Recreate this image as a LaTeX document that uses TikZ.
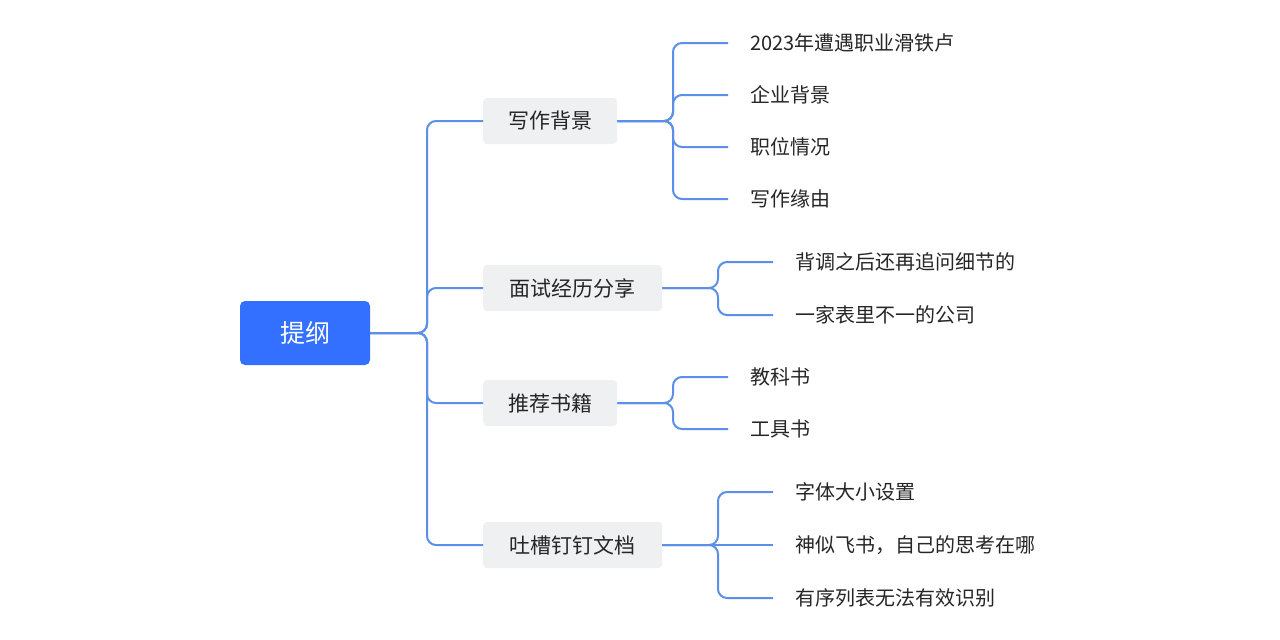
\documentclass[tikz,border=0pt]{standalone}
\usepackage{fontspec}
\setmainfont{Noto Sans CJK SC}
\begin{document}
\begin{tikzpicture}[x=1pt,y=-1pt,
  rootbox/.style={fill=rootblue,rounded corners=5pt,text=white,font=\fontsize{25}{30}\selectfont,minimum width=130pt,minimum height=64pt,inner sep=0pt},
  midbox/.style={fill=midgray,rounded corners=4pt,text=black!85,font=\fontsize{21}{26}\selectfont,minimum height=46pt,inner xsep=24pt,anchor=west},
  leaf/.style={font=\fontsize{20}{24}\selectfont,text=black!85,anchor=west,inner xsep=22pt,inner ysep=0pt},
  conn/.style={draw=lineblue,line width=2pt,rounded corners=9pt}]
\definecolor{rootblue}{HTML}{3370FF}
\definecolor{midgray}{HTML}{EFF0F1}
\definecolor{lineblue}{HTML}{5B8FE9}
\useasboundingbox[fill=white] (0,0) rectangle (1280,640);
\node[rootbox] (root) at (305,333) {提纲};
\node[midbox,minimum width=134pt] (a) at (483,121) {写作背景};
\node[midbox,minimum width=179pt] (b) at (483,288) {面试经历分享};
\node[midbox,minimum width=134pt] (c) at (483,403) {推荐书籍};
\node[midbox,minimum width=179pt] (d) at (483,545) {吐槽钉钉文档};
\foreach \n in {a,b,c,d}{\draw[conn] (root.east) -- (427,333) |- (\n.west);}
\node[leaf] (a1) at (728,43) {2023年遭遇职业滑铁卢};
\node[leaf] (a2) at (728,95) {企业背景};
\node[leaf] (a3) at (728,147) {职位情况};
\node[leaf] (a4) at (728,199) {写作缘由};
\foreach \n in {a1,a2,a3,a4}{\draw[conn] (a.east) -- (673,121) |- (\n.west);}
\node[leaf] (b1) at (773,262) {背调之后还再追问细节的};
\node[leaf] (b2) at (773,315) {一家表里不一的公司};
\foreach \n in {b1,b2}{\draw[conn] (b.east) -- (718,288) |- (\n.west);}
\node[leaf] (c1) at (728,377) {教科书};
\node[leaf] (c2) at (728,429) {工具书};
\foreach \n in {c1,c2}{\draw[conn] (c.east) -- (673,403) |- (\n.west);}
\node[leaf] (d1) at (773,492) {字体大小设置};
\node[leaf] (d2) at (773,545) {神似飞书，自己的思考在哪};
\node[leaf] (d3) at (773,598) {有序列表无法有效识别};
\foreach \n in {d1,d3}{\draw[conn] (d.east) -- (718,545) |- (\n.west);}
\draw[conn] (d.east) -- (d2.west);
\end{tikzpicture}
\end{document}
